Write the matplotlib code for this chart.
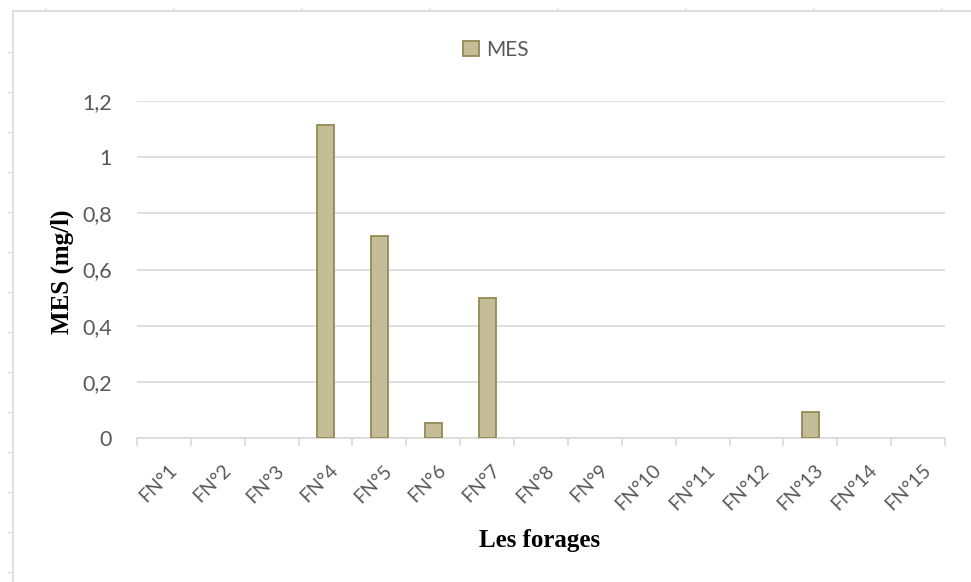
import matplotlib.pyplot as plt
import matplotlib.transforms as mtransforms
from matplotlib.lines import Line2D
from matplotlib.patches import Patch

# data
forages = ['FN°1', 'FN°2', 'FN°3', 'FN°4', 'FN°5', 'FN°6', 'FN°7', 'FN°8',
           'FN°9', 'FN°10', 'FN°11', 'FN°12', 'FN°13', 'FN°14', 'FN°15']
mes = [0, 0, 0, 1.115, 0.72, 0.052, 0.5, 0, 0, 0, 0, 0, 0.093, 0, 0]
yticks = [0, 0.2, 0.4, 0.6, 0.8, 1, 1.2]
ytick_labels = ['0', '0,2', '0,4', '0,6', '0,8', '1', '1,2']

W, H = 971, 582
fig = plt.figure(figsize=(W / 100, H / 100), dpi=100)
ax = fig.add_axes([137 / W, 1 - 438 / H, (945 - 137) / W, (438 - 101) / H])

face = '#C4BD97'
edge = '#948A54'
grey_txt = '#595959'
grid_c = '#D9D9D9'

x = list(range(len(forages)))
bars = ax.bar(x, mes, width=0.32, color=face, edgecolor=edge, linewidth=1.3, zorder=3)
for b, v in zip(bars, mes):
    if v == 0:
        b.set_visible(False)

ax.set_xlim(-0.5, len(forages) - 0.5)
ax.set_ylim(0, 1.2)
ax.set_yticks(yticks)
ax.set_yticklabels(ytick_labels, fontsize=15.5, color=grey_txt, family='Lato')
ax.tick_params(axis='y', length=0, pad=18)
ax.yaxis.grid(True, color=grid_c, linewidth=1.2, zorder=0)

ax.set_xticks(x)
ax.set_xticklabels(forages, rotation=45, ha='right', rotation_mode='anchor',
                   fontsize=14, color=grey_txt, family='Lato')
ax.tick_params(axis='x', length=0, pad=17)
shift = mtransforms.ScaledTranslation(4 / 100, 0, fig.dpi_scale_trans)
for lab in ax.get_xticklabels():
    lab.set_transform(lab.get_transform() + shift)
ax.set_xticks([i - 0.5 for i in range(len(forages) + 1)], minor=True)
ax.tick_params(axis='x', which='minor', length=6, color=grid_c, width=1.2)

for s in ['top', 'right', 'left']:
    ax.spines[s].set_visible(False)
ax.spines['bottom'].set_color(grid_c)
ax.spines['bottom'].set_linewidth(1.2)

fig.text(62 / W, 1 - 272 / H, 'MES (mg/l)', fontsize=18, fontweight='bold',
         family='Liberation Serif', ha='center', va='center', rotation=90)
fig.text(540 / W, 1 - 541 / H, 'Les forages', fontsize=18, fontweight='bold',
         family='Liberation Serif', ha='center', va='center')

# legend
leg = fig.legend(handles=[Patch(facecolor=face, edgecolor=edge, linewidth=1.3, label='MES')],
                 loc='center', bbox_to_anchor=(496 / W, 1 - 50 / H), frameon=False,
                 prop={'family': 'Lato', 'size': 15}, handlelength=0.75, handleheight=0.75,
                 handletextpad=0.35)
for t in leg.get_texts():
    t.set_color(grey_txt)

# outer frame lines with small ticks (left and top edges)
fc = '#E0E0E0'
fig.add_artist(Line2D([13 / W, 13 / W], [0, 1 - 11 / H], color=fc, linewidth=1.5,
                      transform=fig.transFigure))
fig.add_artist(Line2D([13 / W, 1], [1 - 11 / H, 1 - 11 / H], color=fc, linewidth=1.5,
                      transform=fig.transFigure))
for yy in range(52, 582, 40):
    fig.add_artist(Line2D([8 / W, 13 / W], [1 - yy / H, 1 - yy / H], color=fc,
                          linewidth=1, transform=fig.transFigure))
for xx in range(45, 971, 128):
    fig.add_artist(Line2D([xx / W, xx / W], [1 - 8 / H, 1 - 11 / H], color=fc,
                          linewidth=1, transform=fig.transFigure))

fig.savefig('out.png', dpi=100)
